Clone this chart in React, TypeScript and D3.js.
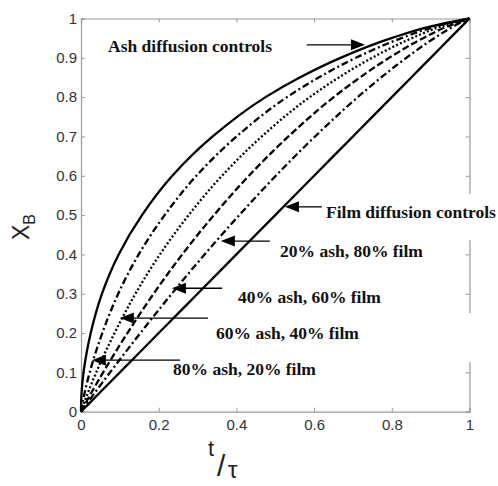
import * as d3 from "d3";
import { useEffect, useRef } from "react";

// conversion X_B (y axis) and reduced time t/tau (x axis) read for each curve
const conversion = [0, 0.02, 0.05, 0.1, 0.15, 0.2, 0.25, 0.3, 0.4, 0.5, 0.6, 0.7, 0.8, 0.85, 0.9, 0.95, 0.98, 1];
const ashTime = [0, 0.0003, 0.0016, 0.0065, 0.0145, 0.025, 0.038, 0.054, 0.097, 0.157, 0.235, 0.339, 0.475, 0.563, 0.668, 0.799, 0.901, 1];
const ash80Time = [0, 0.0036, 0.0098, 0.0224, 0.0375, 0.0548, 0.074, 0.0958, 0.1485, 0.2153, 0.297, 0.4004, 0.5303, 0.6118, 0.7074, 0.8247, 0.9144, 1];
const ash60Time = [0, 0.0072, 0.0185, 0.0392, 0.0619, 0.0863, 0.1122, 0.1401, 0.2031, 0.2771, 0.3628, 0.4654, 0.5888, 0.6635, 0.7492, 0.8519, 0.9287, 1];
const ash40Time = [0, 0.0109, 0.0277, 0.057, 0.0877, 0.1195, 0.1525, 0.1868, 0.2606, 0.3422, 0.4321, 0.5339, 0.6505, 0.718, 0.7933, 0.8805, 0.9437, 1];
const ash20Time = [0, 0.0147, 0.0369, 0.0748, 0.1134, 0.1528, 0.1928, 0.2336, 0.3182, 0.4074, 0.5015, 0.6025, 0.7123, 0.7725, 0.8374, 0.9092, 0.9587, 1];
const filmTime = [0, 0.02, 0.05, 0.1, 0.15, 0.2, 0.25, 0.3, 0.4, 0.5, 0.6, 0.7, 0.8, 0.85, 0.9, 0.95, 0.98, 1];

const xTicks = [0, 0.2, 0.4, 0.6, 0.8, 1];
const yTicks = [0, 0.1, 0.2, 0.3, 0.4, 0.5, 0.6, 0.7, 0.8, 0.9, 1];

// label text, arrow tip (t, X) and arrow tail t
const labels = ["Ash diffusion controls", "Film diffusion controls", "20% ash, 80% film", "40% ash, 60% film", "60% ash, 40% film", "80% ash, 20% film"];
const arrowTips = [[0.731, 0.933], [0.525, 0.521], [0.36, 0.434], [0.234, 0.314], [0.1, 0.238], [0.028, 0.131]];
const arrowTails = [0.581, 0.62, 0.486, 0.363, 0.327, 0.255];

export default function App() {
  const ref = useRef<SVGSVGElement>(null);

  useEffect(() => {
    const svg = d3.select(ref.current);
    svg.selectAll("*").remove();

    const W = 498, H = 486;
    const m = { top: 18.5, right: 28.5, bottom: 74.3, left: 81 };
    const x = d3.scaleLinear().domain([0, 1]).range([m.left, W - m.right]);
    const y = d3.scaleLinear().domain([0, 1]).range([H - m.bottom, m.top]);

    const axisColor = "#9a9a9a";
    const tickFont = "'Liberation Sans', Arial, sans-serif";

    const styleAxis = (g, labelsOn) => {
      g.select(".domain").attr("stroke", axisColor).attr("stroke-width", 1.2);
      g.selectAll(".tick line").attr("stroke", axisColor);
      g.selectAll(".tick text")
        .attr("fill", "#333")
        .style("font-family", tickFont)
        .style("font-size", "15px");
      if (!labelsOn) g.selectAll(".tick text").remove();
    };

    svg.append("g")
      .attr("transform", `translate(0,${y(0)})`)
      .call(d3.axisBottom(x).tickValues(xTicks).tickSize(-4).tickPadding(8).tickFormat(d3.format("")))
      .call((g) => styleAxis(g, true));
    svg.append("g")
      .attr("transform", `translate(${x(0)},0)`)
      .call(d3.axisLeft(y).tickValues(yTicks).tickSize(-4).tickPadding(4).tickFormat(d3.format("")))
      .call((g) => styleAxis(g, true));
    svg.append("g")
      .attr("transform", `translate(0,${y(1)})`)
      .call(d3.axisTop(x).tickValues(xTicks).tickSize(-4).tickFormat(() => ""))
      .call((g) => styleAxis(g, false));
    svg.append("g")
      .attr("transform", `translate(${x(1)},0)`)
      .call(d3.axisRight(y).tickValues(yTicks).tickSize(-4).tickFormat(() => ""))
      .call((g) => styleAxis(g, false));

    const line = d3.line<number>()
      .x((d) => x(d))
      .y((d, i) => y(conversion[i]))
      .curve(d3.curveMonotoneY);

    const series = [
      { t: ashTime, dash: null },
      { t: ash80Time, dash: "7,3,2,3" },
      { t: ash60Time, dash: "2,2.2" },
      { t: ash40Time, dash: "7,3" },
      { t: ash20Time, dash: "7,3,2,3" },
      { t: filmTime, dash: null },
    ];

    svg.append("g")
      .selectAll("path")
      .data(series)
      .enter()
      .append("path")
      .attr("d", (d) => line(d.t))
      .attr("fill", "none")
      .attr("stroke", "#000")
      .attr("stroke-width", 2.3)
      .attr("stroke-dasharray", (d) => d.dash);

    // white boxes behind two labels (they hide part of the right frame)
    svg.append("rect").attr("x", 322).attr("y", 194).attr("width", 176).attr("height", 46).attr("fill", "#fff");
    svg.append("rect").attr("x", 212).attr("y", 313).attr("width", 264).attr("height", 49).attr("fill", "#fff");

    // arrows
    const arrows = svg.append("g");
    arrowTips.forEach((tip, i) => {
      const tx = x(tip[0]), ty = y(tip[1]), tail = x(arrowTails[i]);
      const dir = tail < tx ? 1 : -1;
      arrows.append("line")
        .attr("x1", tail).attr("x2", tx - dir * 10).attr("y1", ty).attr("y2", ty)
        .attr("stroke", "#000").attr("stroke-width", 1.3);
      arrows.append("path")
        .attr("d", `M${tx},${ty}L${tx - dir * 14},${ty - 5.5}L${tx - dir * 14},${ty + 5.5}Z`)
        .attr("fill", "#000");
    });

    const labelPos = [[108, 52], [326, 218], [280, 257], [238, 303], [216, 339], [173, 375]];
    svg.append("g")
      .selectAll("text")
      .data(labels)
      .enter()
      .append("text")
      .attr("x", (d, i) => labelPos[i][0])
      .attr("y", (d, i) => labelPos[i][1])
      .style("font-family", "'Liberation Serif', 'Times New Roman', serif")
      .style("font-weight", "bold")
      .style("font-size", "17.5px")
      .attr("fill", "#111")
      .text((d) => d);

    // y axis title X_B (rotated)
    const yt = svg.append("text")
      .attr("transform", "translate(29,240) rotate(-90)")
      .style("font-family", tickFont)
      .style("font-size", "23px")
      .attr("fill", "#222");
    yt.append("tspan").text("X");
    yt.append("tspan").attr("dy", 6).style("font-size", "16px").text("B");

    // x axis title t/τ
    const xt = svg.append("g").attr("transform", "translate(208,0)")
      .style("font-family", tickFont)
      .attr("fill", "#222");
    xt.append("text").attr("x", 0).attr("y", 456).style("font-size", "22px").text("t");
    xt.append("text").attr("x", 9).attr("y", 476).style("font-size", "30px").text("/");
    xt.append("text").attr("x", 20).attr("y", 478).style("font-size", "24px").text("τ");
  }, []);

  return (
    <div style={{ position: "absolute", left: 0, top: 0, width: 498, height: 486, background: "#fff" }}>
      <svg ref={ref} width={498} height={486} style={{ display: "block" }} />
    </div>
  );
}
